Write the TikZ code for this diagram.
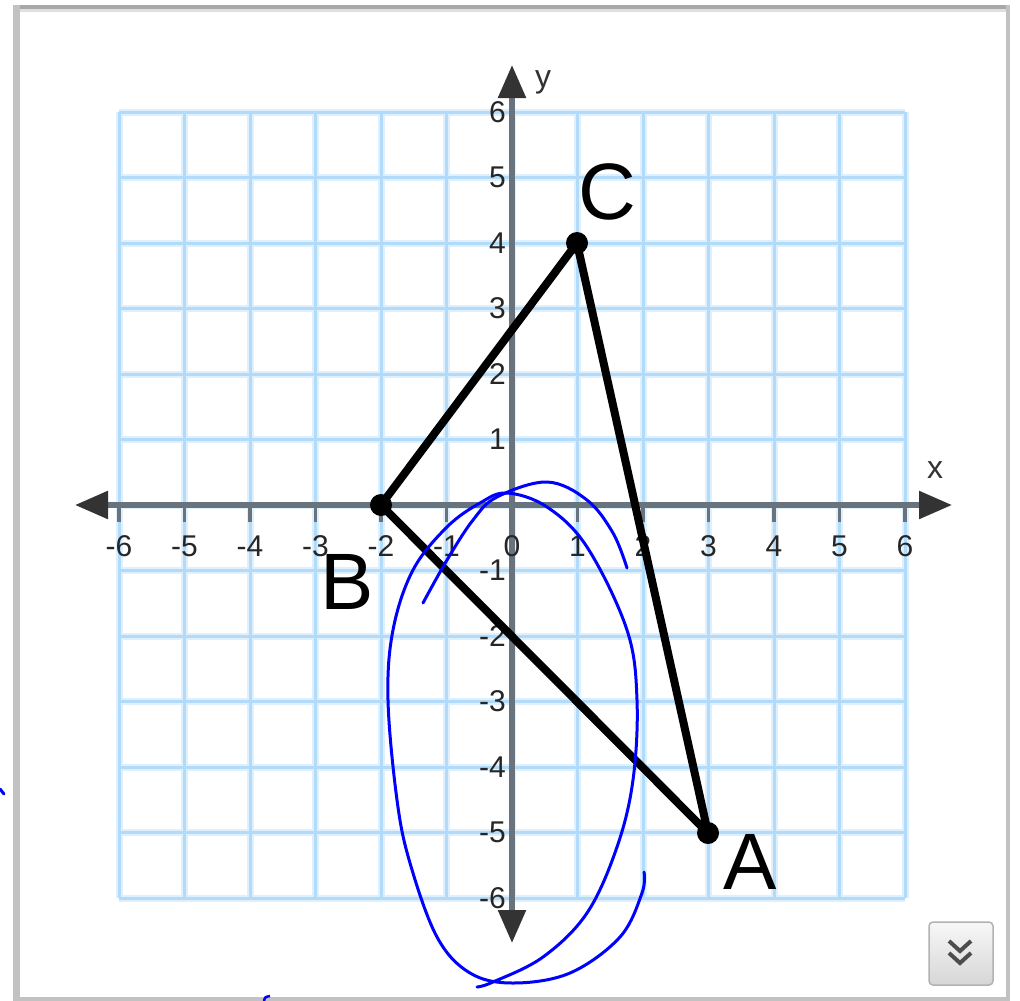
\documentclass[tikz,border=0pt]{standalone}
\usepackage{fontspec}
\setmainfont{Liberation Sans}
\usetikzlibrary{arrows.meta}
\definecolor{gridcore}{RGB}{178,219,250}
\definecolor{gridhalo}{RGB}{222,239,253}
\definecolor{axisgray}{RGB}{105,115,125}
\definecolor{tipgray}{RGB}{51,51,51}
\definecolor{pen}{RGB}{0,0,255}
\definecolor{framegray}{RGB}{194,194,194}
\definecolor{framedark}{RGB}{168,168,168}
\begin{document}
\begin{tikzpicture}[x=1pt,y=-1pt,
  gridglow/.style={gridhalo,line width=7pt},
  gridline/.style={gridcore,line width=3pt},
  axisline/.style={axisgray,line width=5.5pt,
    {Triangle[length=33pt,width=27pt,color=tipgray]}-{Triangle[length=33pt,width=27pt,color=tipgray]}},
  tickmark/.style={axisgray,line width=3.5pt},
  ticklabel/.style={inner sep=0pt,text=black!85,font=\fontsize{30}{36}\selectfont},
  axislabel/.style={inner sep=0pt,text=black!80,font=\fontsize{32}{38}\selectfont},
  vertexlabel/.style={inner sep=0pt,font=\fontsize{80}{96}\selectfont},
  triedge/.style={line width=8pt,line cap=round,line join=round},
  vertexdot/.style={circle,fill=black,minimum size=22pt,inner sep=0pt},
  ink/.style={pen,line width=3pt,line cap=round,line join=round},
  morebutton/.style={rounded corners=4pt,minimum width=64pt,minimum height=63pt,
    top color=black!3,bottom color=black!16,draw=black!30,line width=1.5pt,inner sep=0pt},
  chevron/.style={black!70,line width=4pt,line cap=butt,line join=miter}]

\useasboundingbox (0,0) rectangle (1020,1001);
\fill[white] (0,0) rectangle (1020,1001);

% frame
\fill[framedark] (13,5) rectangle (1010,9);
\fill[black!12] (20,9) rectangle (1006,12);
\fill[framegray] (13,5) rectangle (20,1001);
\fill[framegray] (1006,5) rectangle (1010,1001);
\fill[framegray] (13,997) rectangle (1010,1001);

% grid
\foreach \i in {-6,...,6} {
  \draw[gridglow] ({512+65.5*\i},112) -- ({512+65.5*\i},898);
  \draw[gridglow] (119,{505-65.5*\i}) -- (905,{505-65.5*\i});
}
\foreach \i in {-6,...,6} {
  \draw[gridline] ({512+65.5*\i},112) -- ({512+65.5*\i},898);
  \draw[gridline] (119,{505-65.5*\i}) -- (905,{505-65.5*\i});
}

% axes
\coordinate (xleft) at (75,505);
\coordinate (xright) at (952,505);
\coordinate (ytop) at (512,65);
\coordinate (ybottom) at (512,943);
\foreach \i in {-6,-5,-4,-3,-2,-1,0,1,2,3,4,5,6} {
  \draw[tickmark] ({512+65.5*\i},505) -- ({512+65.5*\i},522);
}
\draw[axisline] (xleft) -- (xright);
\draw[axisline] (ybottom) -- (ytop);

% tick labels
\foreach \i in {-6,-5,-4,-3,-2,-1,0,1,2,3,4,5,6} {
  \node[ticklabel] (xt\i) at ({512+65.5*\i},546) {\i};
}
\foreach \i in {-6,-5,-4,-3,-2,-1,1,2,3,4,5,6} {
  \node[ticklabel,anchor=east] (yt\i) at (506,{505-65.5*\i}) {\i};
}
\node[axislabel] (xname) at (935,470) {x};
\node[axislabel] (yname) at (543,82) {y};

% triangle
\coordinate (A) at (708,833);
\coordinate (B) at (381,505);
\coordinate (C) at (577,243);
\draw[triedge] (A) -- (B) -- (C) -- cycle;
\node[vertexdot] (Adot) at (A) {};
\node[vertexdot] (Bdot) at (B) {};
\node[vertexdot] (Cdot) at (C) {};
\node[vertexlabel] (Alabel) at (750,862) {A};
\node[vertexlabel] (Blabel) at (347,582) {B};
\node[vertexlabel] (Clabel) at (607,192) {C};

% freehand ink
\draw[ink] plot[smooth,tension=0.6] coordinates {
  (423,603) (447,560) (473,520) (497,497) (547,482) (587,500) (613,533) (627,568)};
\draw[ink] plot[smooth,tension=0.6] coordinates {
  (477,987) (493,982) (543,957) (587,913) (617,847) (633,780) (637,700)
  (627,630) (587,547) (547,507) (507,493) (480,503) (447,527) (413,570)
  (393,630) (388,700) (397,800) (410,863) (437,937) (470,973) (513,983)
  (570,973) (620,937) (642,893) (644,872)};
\draw[ink] (0,789) -- (4,794);
\draw[pen,line width=2.5pt] (264,1001) .. controls (265,997) .. (270,996);

% button
\node[morebutton] (more) at (961,953.5) {};
\draw[chevron] (949,941) -- (960,951) -- (971,941);
\draw[chevron] (949,953) -- (960,963) -- (971,953);
\end{tikzpicture}
\end{document}
